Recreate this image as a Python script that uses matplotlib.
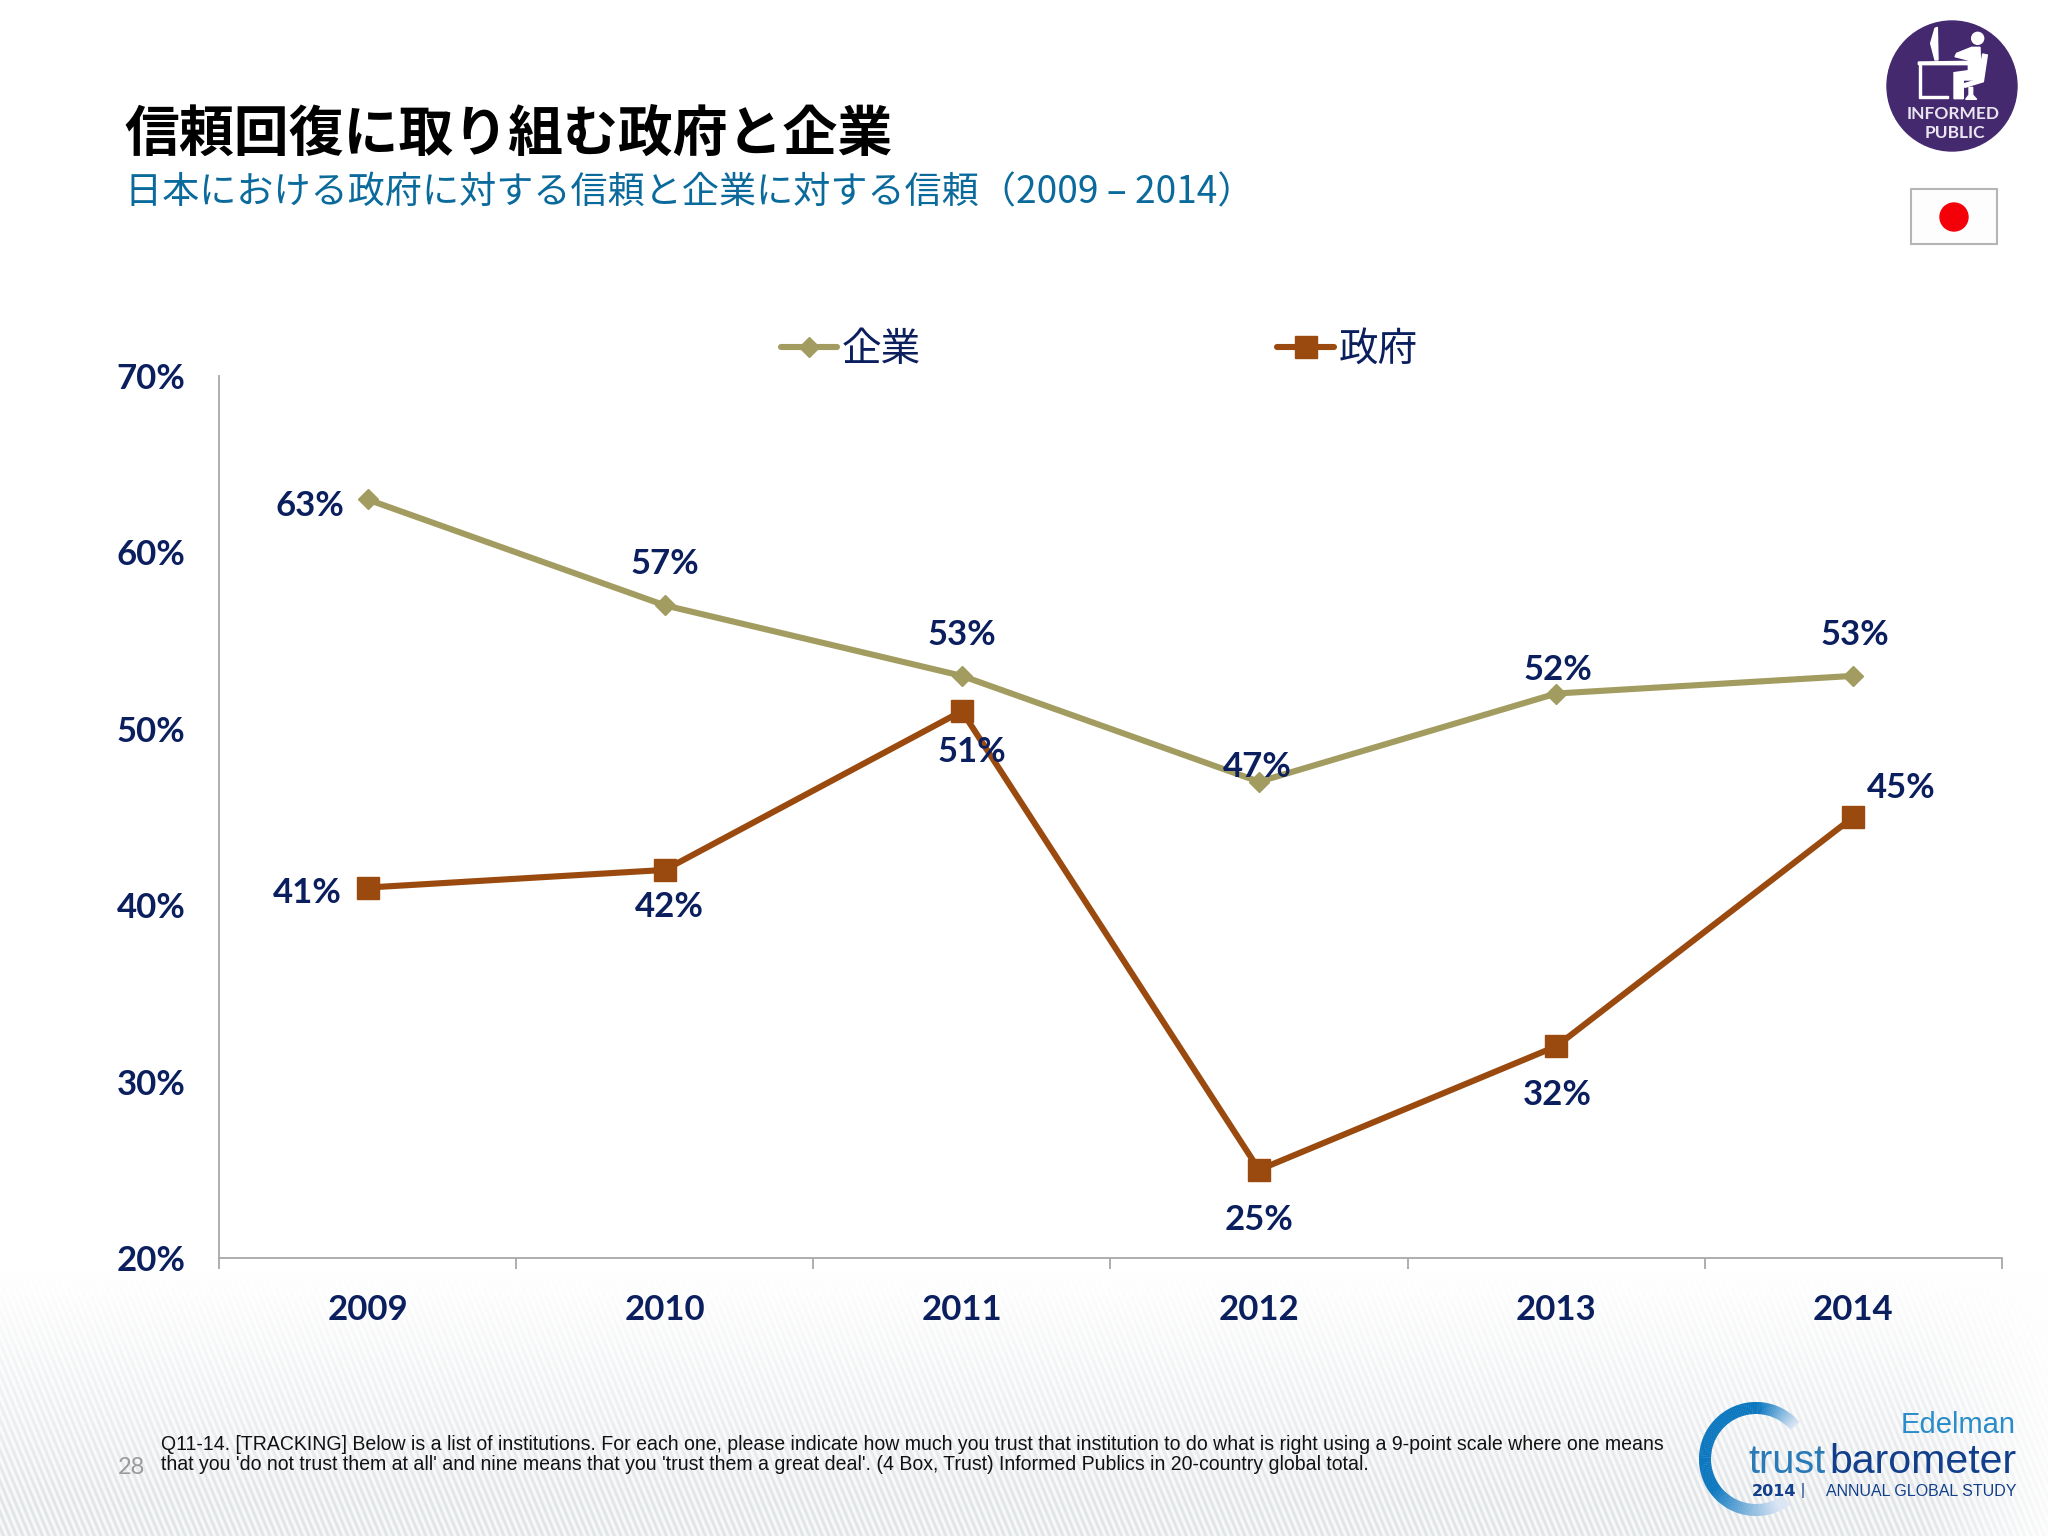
import numpy as np
import matplotlib
matplotlib.use('Agg')
import matplotlib.pyplot as plt
from matplotlib.patches import Circle, Rectangle, Polygon, Wedge

# Data
years = ['2009', '2010', '2011', '2012', '2013', '2014']
business = [63, 57, 53, 47, 52, 53]
government = [41, 42, 51, 25, 32, 45]
y_ticks = [20, 30, 40, 50, 60, 70]

# label offsets in pixels
business_off = [(-58, -7), (0, 41), (0, 41), (-2, 15), (2, 24), (1, 41)]
government_off = [(-60, -5), (5, -37), (10, -41), (0, -50), (1, -49), (48, 29)]

NAVY = '#0b1f5e'
OLIVE = '#a39c60'
BROWN = '#9a4a0e'
CJK = ['Noto Sans CJK JP', 'DejaVu Sans']

W, H = 2048, 1536
fig = plt.figure(figsize=(W / 100, H / 100), dpi=100)

# Full-size pixel layer for background and logos
bg = fig.add_axes([0, 0, 1, 1])
bg.set_xlim(0, W)
bg.set_ylim(H, 0)
bg.axis('off')

# striped background fading in toward the bottom
xx, yy = np.meshgrid(np.arange(W), np.arange(H))
fade = np.clip((yy - 1270) / 230, 0, 1) * np.clip((2048 - xx) / 160 + 0.2, 0, 1)
stripes = 0.5 + 0.5 * np.sin(2 * np.pi * (xx - 0.42 * yy) / 6.5)
shade = fade * (0.02 + 0.10 * stripes)
img = np.dstack([1 - shade * 1.0, 1 - shade * 0.9, 1 - shade * 0.8])
bg.imshow(np.clip(img, 0, 1), extent=(0, W, H, 0), aspect='auto', zorder=0)


def px_text(x, y, s, **kw):
    kw.setdefault('va', 'center')
    return bg.text(x, y, s, zorder=5, **kw)


# Titles
px_text(124, 134, '信頼回復に取り組む政府と企業', family=CJK, fontsize=39.5,
        fontweight='bold', color='black')
px_text(125, 193, '日本における政府に対する信頼と企業に対する信頼（2009 – 2014）',
        family=CJK, fontsize=26.7, color='#0b6a9c')

# Informed public badge
def z(x, y):
    return (1800 + x / 3, y / 3)


def zpoly(points, **kw):
    bg.add_patch(Polygon([z(*p) for p in points], zorder=4, **kw))


bg.add_patch(Circle((1952, 86), 65, color='#45296f', zorder=3))
bg.add_patch(Circle(z(533, 115), 6, color='white', zorder=4))
zpoly([(405, 85), (412, 82), (414, 180), (405, 180), (392, 130)], color='white')
zpoly([(355, 186), (512, 184), (512, 194), (355, 194)], color='white')
zpoly([(358, 194), (363, 194), (363, 289), (445, 289), (445, 294), (358, 294)], color='white')
zpoly([(515, 142), (540, 142), (542, 215), (530, 240), (490, 240), (490, 296),
       (462, 296), (462, 218), (505, 212), (505, 180), (465, 170), (470, 160)], color='white')
zpoly([(548, 162), (562, 165), (550, 245), (495, 262), (490, 252), (535, 238)], color='white')
zpoly([(507, 262), (518, 262), (518, 285), (530, 298), (497, 298), (507, 285)], color='white')
px_text(1953, 114, 'INFORMED', family='Lato', fontsize=12.5, fontweight='bold',
        color='#e9e5f0', ha='center')
px_text(1955, 133, 'PUBLIC', family='Lato', fontsize=12.5, fontweight='bold',
        color='#e9e5f0', ha='center')

# Flag
bg.add_patch(Rectangle((1911, 189), 86, 55, facecolor='#fdfdfd', edgecolor='#b5b5b5',
                       linewidth=1.5, zorder=3))
bg.add_patch(Circle((1954, 217), 14, color='#f40009', zorder=4))

# Chart
ax = fig.add_axes([219 / W, 1 - 1258 / H, (2002 - 219) / W, (1258 - 376) / H])
ax.patch.set_alpha(0)
x = np.arange(len(years))
l1, = ax.plot(x, business, color=OLIVE, lw=4.4, marker='D', ms=10.5,
              solid_capstyle='round', label='企業', clip_on=False)
l2, = ax.plot(x, government, color=BROWN, lw=4.4, marker='s', ms=16,
              solid_capstyle='round', label='政府', clip_on=False)
ax.set_xlim(-0.5, 5.5)
ax.set_ylim(20, 70)
ax.set_yticks(y_ticks)
ax.set_yticklabels([f'{v}%' for v in y_ticks], family='Lato', fontsize=25,
                   fontweight='bold', color=NAVY)
ax.set_xticks(x)
ax.set_xticklabels(years, family='Lato', fontsize=25, fontweight='bold', color=NAVY)
ax.set_xticks(np.arange(-0.5, 6, 1), minor=True)
ax.tick_params(axis='x', which='major', length=0, pad=26)
ax.tick_params(axis='x', which='minor', length=8, width=1.3, color='#a8a8a8')
ax.tick_params(axis='y', length=0, pad=24)
for s in ['top', 'right']:
    ax.spines[s].set_visible(False)
for s in ['left', 'bottom']:
    ax.spines[s].set_color('#a8a8a8')
    ax.spines[s].set_linewidth(1.3)

for vals, offs in [(business, business_off), (government, government_off)]:
    for i, v in enumerate(vals):
        ax.annotate(f'{v}%', (x[i], v), xytext=offs[i], textcoords='offset pixels',
                    ha='center', va='center', family='Lato', fontsize=25,
                    fontweight='bold', color=NAVY, zorder=6)

fig.legend(handles=[l1, l2], ncol=2, frameon=False, loc='center left',
           bbox_to_anchor=(781 / W, 1 - 350 / H), borderpad=0, borderaxespad=0,
           handlelength=1.42, handletextpad=0.12, columnspacing=9.0,
           prop={'family': CJK, 'size': 28.5}, labelcolor=NAVY)

# Footnote
px_text(161, 1444, "Q11-14. [TRACKING] Below is a list of institutions. For each one, please indicate "
        "how much you trust that institution to do what is right using a 9-point scale where one means",
        family='Liberation Sans', fontsize=14.07, color='#111111')
px_text(161, 1464, "that you 'do not trust them at all' and nine means that you 'trust them a great deal'. "
        "(4 Box, Trust) Informed Publics in 20-country global total.",
        family='Liberation Sans', fontsize=14.07, color='#111111')
px_text(118, 1467, '28', family='Lato', fontsize=17, color='#9a9a9a')

# Trust barometer logo, ring drawn from top right round the left to the bottom
ring_blue = np.array([0.05, 0.47, 0.75])
ring_pale = np.array([0.86, 0.90, 0.96])
for a in range(40, 305, 2):
    if a < 85:
        t = (85 - a) / 45
    elif a < 215:
        t = 0
    else:
        t = min((a - 215) / 80, 1)
    col = ring_blue * (1 - t) + ring_pale * t
    bg.add_patch(Wedge((1756, 1459), 57, -a - 2.4, -a, width=12, color=tuple(col),
                       linewidth=0, zorder=3))
px_text(2016, 1425, 'Edelman', family='Liberation Sans', fontsize=21, color='#2a8cc8', ha='right')
px_text(1748, 1462, 'trust', family='Liberation Sans', fontsize=28.5, color='#2a7ab8')
px_text(2016, 1462, 'barometer', family='Liberation Sans', fontsize=29.5,
        color='#123f8c', ha='right')
px_text(1752, 1491, '2014', family='DejaVu Sans', fontsize=11.5, fontweight='bold', color='#123f8c')
px_text(1803, 1491, '|', family='Liberation Sans', fontsize=11.5, color='#123f8c', ha='center')
px_text(2016, 1491, 'ANNUAL GLOBAL STUDY', family='Liberation Sans', fontsize=11.5,
        color='#123f8c', ha='right')

fig.savefig('out.png', dpi=100)
